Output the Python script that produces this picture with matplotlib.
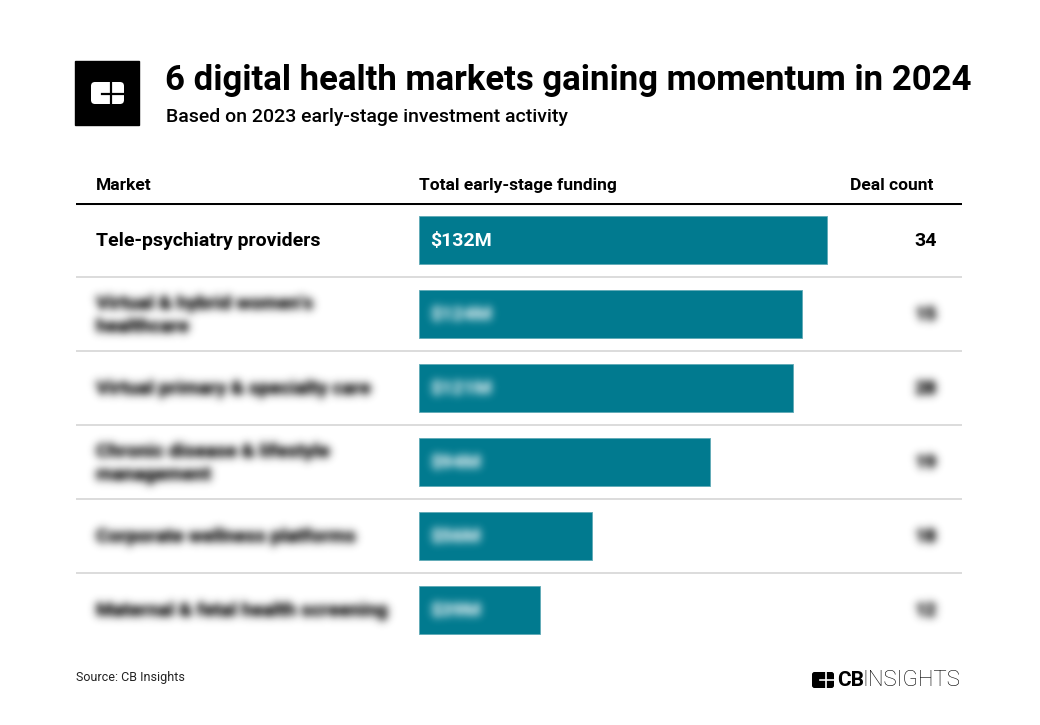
import numpy as np
import matplotlib
matplotlib.use("Agg")
import matplotlib.pyplot as plt
from matplotlib.patches import Rectangle, FancyBboxPatch

# ---------------- data ----------------
markets = [
    "Tele-psychiatry providers",
    "Virtual & hybrid women's\nhealthcare",
    "Virtual primary & specialty care",
    "Chronic disease & lifestyle\nmanagement",
    "Corporate wellness platforms",
    "Maternal & fetal health screening",
]
funding = [132, 124, 121, 94, 56, 39]          # $M
funding_labels = ["$132M", "$124M", "$121M", "$94M", "$56M", "$39M"]
deal_counts = [34, 15, 28, 19, 18, 12]
blurred = [False, True, True, True, True, True]

title = "6 digital health markets gaining momentum in 2024"
subtitle = "Based on 2023 early-stage investment activity"
headers = ["Market", "Total early-stage funding", "Deal count"]
source = "Source: CB Insights"

BAR = "#017a8f"
FONT = "Roboto"


class GaussianBlur:
    """Gaussian blur for an artist's rendering (straight-alpha RGBA)."""
    def __init__(self, sigma, gain=1.0):
        self.sigma = sigma
        self.gain = gain

    def _blur(self, arr, k, pad):
        out = np.zeros_like(arr)
        for i, w in enumerate(k):
            out += w * np.roll(arr, i - pad, axis=0)
        out2 = np.zeros_like(out)
        for i, w in enumerate(k):
            out2 += w * np.roll(out, i - pad, axis=1)
        return out2

    def __call__(self, im, dpi):
        s = self.sigma
        pad = int(3 * s) + 1
        src = np.pad(im, [(pad, pad), (pad, pad), (0, 0)], "constant")
        x = np.arange(-pad, pad + 1)
        k = np.exp(-0.5 * (x / s) ** 2)
        k /= k.sum()
        a = src[..., 3:4]
        pre = src[..., :3] * a
        pre_b = self._blur(pre, k, pad)
        a_b = self._blur(a, k, pad)
        rgb = np.clip(pre_b / np.maximum(a_b, 1e-6), 0, 1)
        out = np.concatenate([rgb, np.clip(a_b * self.gain, 0, 1)], axis=2)
        return out, -pad, -pad


W, H = 1040, 725
fig = plt.figure(figsize=(W / 100, H / 100), dpi=100)
fig.patch.set_facecolor("white")

deco = fig.add_axes([0, 0, 1, 1])
deco.set_xlim(0, W)
deco.set_ylim(H, 0)
deco.axis("off")

L, R, T, B = 76, 962, 203, 647
ax = fig.add_axes([L / W, 1 - B / H, (R - L) / W, (B - T) / H])
ax.axis("off")
scale = (827 - 419) / funding[0]
ax.set_xlim(-(419 - L) / scale, (R - 419) / scale)
n = len(markets)
ax.set_ylim(n - 0.5, -0.5)
ypos = np.arange(n)

ax.barh(ypos, funding, height=0.66, color=BAR, edgecolor="#5fa9b6", linewidth=0.6, zorder=2)

ax.axhline(-0.5, color="black", lw=2.2, zorder=3)
for i in range(n - 1):
    ax.axhline(i + 0.5, color="#d9d9d9", lw=1.3, zorder=1)

xm = -(419 - 96) / scale
xd = (937 - 419) / scale
for i in range(n):
    t1 = ax.text(xm, ypos[i] + 0.02, markets[i], fontsize=14, fontweight="bold", family=FONT,
                 va="center", ha="left", color="black", linespacing=1.3)
    t2 = ax.text(11 / scale, ypos[i] + 0.02, funding_labels[i], fontsize=14, fontweight="bold",
                 family=FONT, va="center", ha="left", color="white", zorder=4)
    t3 = ax.text(xd, ypos[i] + 0.02, str(deal_counts[i]), fontsize=14, fontweight="bold",
                 family=FONT, va="center", ha="right", color="black")
    if blurred[i]:
        for t in (t1, t3):
            t.set_color("#222222")
            t.set_agg_filter(GaussianBlur(4.3, 1.5))
        t2.set_agg_filter(GaussianBlur(4.3, 1.1))

deco.text(96, 185, headers[0], fontsize=12.5, fontweight="bold", family=FONT, va="center", ha="left")
deco.text(419, 185, headers[1], fontsize=12.5, fontweight="bold", family=FONT, va="center", ha="left")
deco.text(933, 185, headers[2], fontsize=12.5, fontweight="bold", family=FONT, va="center", ha="right")

deco.add_patch(Rectangle((75, 61), 64, 64, color="black"))
deco.add_patch(FancyBboxPatch((91, 82), 33, 22, boxstyle="round,pad=0,rounding_size=4",
                              facecolor="white", edgecolor="none"))
deco.plot([110.5, 110.5], [82, 104], color="black", lw=1.6)
deco.plot([102, 124], [93.5, 93.5], color="black", lw=1.6)

deco.text(165, 80, title, fontsize=25, fontweight="bold", family=FONT, va="center", ha="left")
deco.text(166, 117, subtitle, fontsize=14, fontweight="medium", family=FONT, va="center", ha="left")

deco.text(76, 677, source, fontsize=9, family=FONT, va="center", ha="left", color="#222222")
deco.add_patch(FancyBboxPatch((812, 672), 22, 16, boxstyle="round,pad=0,rounding_size=2.5",
                              facecolor="black", edgecolor="none"))
deco.plot([826, 826], [672, 688], color="white", lw=1.2)
deco.plot([820, 834], [680, 680], color="white", lw=1.2)
deco.text(837, 680.5, "CB", fontsize=15, fontweight="bold", family=FONT, va="center", ha="left")
deco.text(862, 680.5, "INSIGHTS", fontsize=16, fontweight="light", family=FONT, va="center", ha="left")

fig.savefig("out.png", dpi=100, facecolor="white")
